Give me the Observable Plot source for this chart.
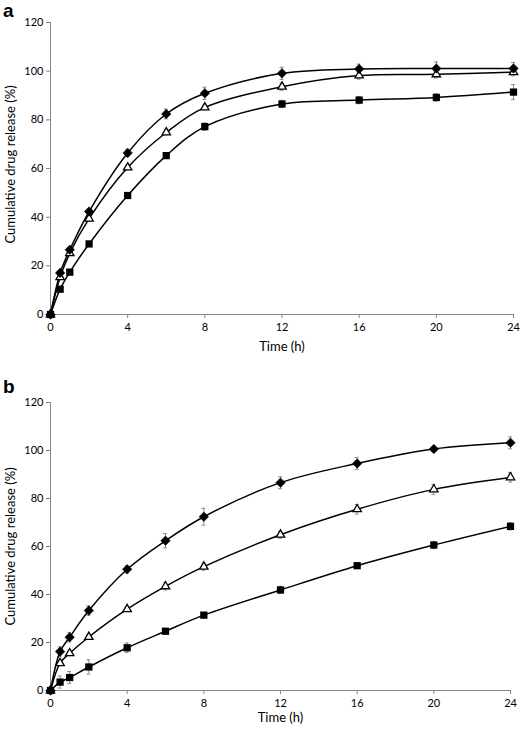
<!DOCTYPE html>
<html><head><meta charset="utf-8">
<script src="https://cdn.jsdelivr.net/npm/d3@7"></script>
<script src="https://cdn.jsdelivr.net/npm/@observablehq/plot@0.6"></script>
<style>
body{margin:0;background:#fff;font-family:Lato,sans-serif}
.panel{position:relative;width:520px}
.tag{position:absolute;left:3px;font:bold 19px "Liberation Sans",Arial,sans-serif;line-height:normal}
svg{display:block}
</style></head><body>
<div id="a" class="panel"><div class="tag" style="top:0px">a</div></div>
<div id="b" class="panel"><div class="tag" style="top:18px">b</div></div>
<script>
const times = [0, 0.5, 1, 2, 4, 6, 8, 12, 16, 20, 24];
const xTicks = [0, 4, 8, 12, 16, 20, 24];
const yTicks = [0, 20, 40, 60, 80, 100, 120];
const xLabel = "Time (h)";
const yLabel = "Cumulative drug release (%)";

// Panel a
const aDiamond  = [0, 17.1, 26.6, 42.3, 66.4, 82.4, 90.9, 99.1, 100.9, 101.1, 101.1];
const aDiamondE = [0, 1, 1, 1, 1.5, 2, 2.5, 2.5, 2, 2.7, 2.5];
const aTriangle  = [0, 15.3, 25.2, 39.4, 60.4, 74.8, 85.1, 93.6, 98.2, 98.7, 99.6];
const aTriangleE = [0, 1, 1, 1, 1, 1, 1, 1.5, 1.5, 1.5, 1.5];
const aSquare  = [0, 10.4, 17.4, 29, 48.9, 65.3, 77.2, 86.5, 88.1, 89.2, 91.4];
const aSquareE = [0, 1, 1, 1, 1, 1, 1.5, 1.5, 1.5, 1.5, 3.1];

// Panel b
const bDiamond  = [0, 16.2, 22.2, 33.3, 50.5, 62.4, 72.4, 86.6, 94.6, 100.6, 103.2];
const bDiamondE = [0, 2, 2, 2, 1.5, 3, 3.5, 2.5, 2.5, 1, 2.5];
const bTriangle  = [0, 11.4, 15.5, 22.3, 33.9, 43.4, 51.6, 64.9, 75.5, 83.8, 88.8];
const bTriangleE = [0, 1, 1, 1, 1, 1.5, 1.5, 1.5, 2, 2, 2];
const bSquare  = [0, 3.5, 5.4, 9.8, 17.8, 24.7, 31.4, 41.9, 52, 60.6, 68.4];
const bSquareE = [0, 2.5, 2.5, 3, 2, 1, 1, 1.5, 1, 1.5, 1.5];

const gray = "#868686";
const errGray = "#8a8a8a";

function rows(name, vals, errs) {
  return times.map((t, i) => ({t, v: vals[i], e: errs[i], s: name}));
}

function panel(series, opts) {
  const all = series.flat();
  const [dia, tri, sq] = series;
  const err = all.filter(d => d.e > 0);
  return Plot.plot({
    width: 520,
    height: opts.height,
    marginLeft: opts.marginLeft,
    marginRight: opts.marginRight,
    marginTop: opts.marginTop,
    marginBottom: opts.marginBottom,
    x: {domain: [0, 24]},
    y: {domain: [0, 120]},
    style: {fontFamily: "Lato, sans-serif", fontSize: "11px", color: "#000", background: "#fff"},
    marks: [
      Plot.axisX({ticks: xTicks, tickSize: 4, tickPadding: 5, stroke: gray, label: null, fill: "#000"}),
      Plot.axisY({ticks: yTicks, tickSize: 4, tickPadding: 3, stroke: gray, label: null, fill: "#000"}),
      Plot.ruleX([0], {stroke: gray}),
      Plot.ruleY([0], {stroke: gray}),
      Plot.text([xLabel], {frameAnchor: "bottom", dy: opts.xLabelDy, fontSize: 13, lineAnchor: "middle", fill: "#000"}),
      Plot.text([yLabel], {frameAnchor: "left", textAnchor: "middle", dx: opts.yLabelDx, dy: opts.yLabelDy, rotate: -90, fontSize: 13, lineAnchor: "middle", fill: "#000"}),
      Plot.ruleX(err, {x: "t", y1: d => d.v - d.e, y2: d => d.v + d.e, stroke: errGray, strokeWidth: 1}),
      Plot.ruleY(err, {y: d => d.v + d.e, x1: d => d.t - 0.1, x2: d => d.t + 0.1, stroke: errGray}),
      Plot.ruleY(err, {y: d => d.v - d.e, x1: d => d.t - 0.1, x2: d => d.t + 0.1, stroke: errGray}),
      Plot.line(all, {x: "t", y: "v", z: "s", curve: "catmull-rom", stroke: "#000", strokeWidth: 1.5}),
      Plot.dot(sq, {x: "t", y: "v", symbol: "square", r: 4.1, fill: "#000", stroke: "none"}),
      Plot.dot(tri, {x: "t", y: "v", symbol: "triangle2", r: 4, fill: "#fff", stroke: "#000", strokeWidth: 1.3}),
      Plot.dot(dia, {x: "t", y: "v", symbol: "diamond2", r: 4.3, fill: "#000", stroke: "#000", strokeWidth: 0.5})
    ]
  });
}

const a = panel([rows("diamond", aDiamond, aDiamondE), rows("triangle", aTriangle, aTriangleE), rows("square", aSquare, aSquareE)],
  {height: 358, marginLeft: 50, marginRight: 7, marginTop: 22, marginBottom: 44, xLabelDy: 32, yLabelDx: -40, yLabelDy: -4});
document.getElementById("a").appendChild(a);

const b = panel([rows("diamond", bDiamond, bDiamondE), rows("triangle", bTriangle, bTriangleE), rows("square", bSquare, bSquareE)],
  {height: 376, marginLeft: 50, marginRight: 10, marginTop: 44, marginBottom: 44, xLabelDy: 27, yLabelDx: -40, yLabelDy: 0});
document.getElementById("b").appendChild(b);
</script>
</body></html>
